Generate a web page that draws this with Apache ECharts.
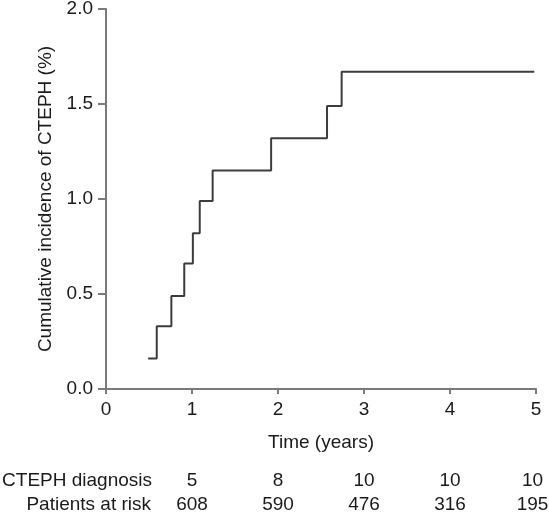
<!DOCTYPE html>
<html>
<head>
<meta charset="utf-8">
<script src="https://cdn.jsdelivr.net/npm/echarts@6/dist/echarts.min.js"></script>
<style>
html,body{margin:0;padding:0;background:#fff;}
#chart{width:549px;height:517px;}
</style>
</head>
<body>
<div id="chart"></div>
<script>
// Step curve (time in years, cumulative incidence in %)
var times = [0.49, 0.59, 0.76, 0.91, 1.01, 1.09, 1.24, 1.92, 2.57, 2.74, 4.98];
var incidence = [0.16, 0.33, 0.49, 0.66, 0.82, 0.99, 1.15, 1.32, 1.49, 1.67, 1.67];

// Table below the chart
var tableTimes = [1, 2, 3, 4, 5];
var diagnosisCounts = [5, 8, 10, 10, 10];
var atRiskCounts = [608, 590, 476, 316, 195];
var rowLabels = ['CTEPH diagnosis', 'Patients at risk'];

var xTicks = [0, 1, 2, 3, 4, 5];
var yTicks = [0.0, 0.5, 1.0, 1.5, 2.0];

var FONT = '"Liberation Sans", Arial, Helvetica, sans-serif';
var AX = '#7a7a7a';
var TXT = '#1a1a1a';

function tableLookup(arr) {
  return function (v) {
    var i = tableTimes.indexOf(v);
    if (i < 0) return '';
    if (i === tableTimes.length - 1) return '{last|' + arr[i] + '}';
    return String(arr[i]);
  };
}
var tableRich = {last: {fontFamily: FONT, fontSize: 19, color: TXT, padding: [0, 7, 0, 0]}};

var chart = echarts.init(document.getElementById('chart'), null, {renderer: 'canvas'});
var data = times.map(function (t, i) { return [t, incidence[i]]; });

var option = {
  animation: false,
  backgroundColor: '#fff',
  grid: {left: 106, right: 13, top: 9, bottom: 128, containLabel: false, outerBoundsMode: 'none'},
  xAxis: [
    {
      type: 'value', min: xTicks[0], max: xTicks[xTicks.length - 1], interval: 1,
      name: 'Time (years)', nameLocation: 'middle', nameGap: 44,
      nameTextStyle: {fontFamily: FONT, fontSize: 19, color: TXT},
      axisLine: {show: true, lineStyle: {color: AX, width: 2}},
      axisTick: {show: true, length: 5, lineStyle: {color: AX, width: 2}},
      axisLabel: {fontFamily: FONT, fontSize: 19, color: TXT, margin: 11},
      splitLine: {show: false}
    },
    {
      type: 'value', gridIndex: 0, position: 'bottom', min: 0, max: 5, interval: 1,
      axisLine: {show: false}, axisTick: {show: false}, splitLine: {show: false},
      axisLabel: {fontFamily: FONT, fontSize: 19, color: TXT, margin: 82,
        formatter: tableLookup(diagnosisCounts), rich: tableRich}
    },
    {
      type: 'value', gridIndex: 0, position: 'bottom', min: 0, max: 5, interval: 1,
      axisLine: {show: false}, axisTick: {show: false}, splitLine: {show: false},
      axisLabel: {fontFamily: FONT, fontSize: 19, color: TXT, margin: 106,
        formatter: tableLookup(atRiskCounts), rich: tableRich}
    }
  ],
  yAxis: {
    type: 'value', min: yTicks[0], max: yTicks[yTicks.length - 1], interval: 0.5,
    name: 'Cumulative incidence of CTEPH (%)', nameLocation: 'middle', nameGap: 44,
    nameTextStyle: {fontFamily: FONT, fontSize: 19, color: TXT},
    axisLine: {show: true, lineStyle: {color: AX, width: 2}},
    axisTick: {show: true, length: 8, lineStyle: {color: AX, width: 2}},
    axisLabel: {fontFamily: FONT, fontSize: 19, color: TXT, margin: 13,
      formatter: function (v) { return v.toFixed(1); }},
    splitLine: {show: false}
  },
  graphic: [
    {type: 'text', right: 549 - 152, top: 471,
      style: {text: rowLabels[0], font: '19px ' + FONT, fill: TXT, textAlign: 'right'}},
    {type: 'text', right: 549 - 151, top: 495,
      style: {text: rowLabels[1], font: '19px ' + FONT, fill: TXT, textAlign: 'right'}}
  ],
  series: [{
    type: 'line', step: 'end', data: data, symbol: 'none',
    lineStyle: {color: '#3c3c3c', width: 2}
  }]
};
chart.setOption(option);
</script>
</body>
</html>
